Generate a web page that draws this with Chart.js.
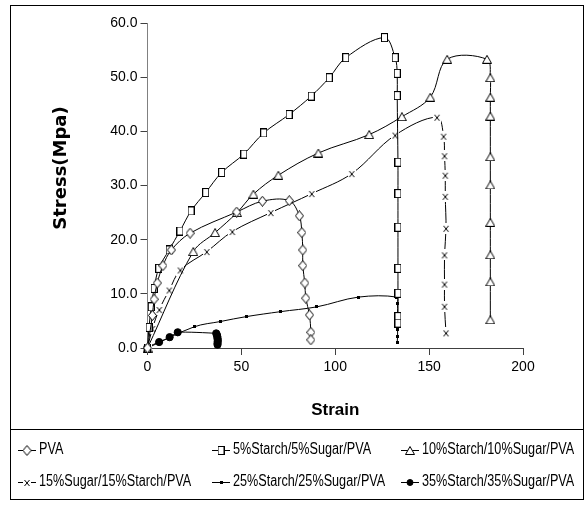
<!DOCTYPE html>
<html>
<head>
<meta charset="utf-8">
<script src="https://cdn.jsdelivr.net/npm/chart.js@4.4.1/dist/chart.umd.min.js"></script>
<style>
  html, body { margin: 0; padding: 0; background: #fff; }
  #wrap { width: 586px; height: 505px; }
</style>
</head>
<body>
<div id="wrap"><canvas id="c" width="586" height="505"></canvas></div>
<script>
// Series names
const seriesNames = [
  'PVA',
  '5%Starch/5%Sugar/PVA',
  '10%Starch/10%Sugar/PVA',
  '15%Sugar/15%Starch/PVA',
  '25%Starch/25%Sugar/PVA',
  '35%Starch/35%Sugar/PVA'
];

// Stress-strain readings (strain in %, stress in MPa)
const pvaStrain = [0, 2.6, 3.5, 5.2, 8.2, 12.7, 22.7, 47.5, 61.2, 75.5, 80.9, 82.2, 82.7, 82.7, 83.8, 84.3, 86.3, 87.0, 87.0];
const pvaStress = [0, 6.0, 9.0, 12.0, 15.2, 18.1, 21.2, 25.1, 27.1, 27.2, 24.4, 21.3, 18.1, 15.2, 12.0, 9.2, 6.1, 2.9, 1.5];

const s5Strain = [0, 0.8, 2.0, 3.5, 6.0, 11.5, 17.3, 23.2, 31.0, 39.5, 51.3, 61.9, 75.4, 87.2, 96.8, 105.6, 126.2, 131.9, 133.0, 133.0, 133.4, 133.4, 133.4, 133.4, 133.4, 133.4, 133.4];
const s5Stress = [0, 3.8, 7.6, 11.0, 14.7, 18.1, 21.6, 25.3, 28.7, 32.4, 35.8, 39.7, 43.1, 46.5, 49.9, 53.6, 57.3, 53.6, 50.7, 46.6, 34.3, 28.5, 22.3, 14.7, 10.1, 5.8, 4.6];

const s10Strain = [0, 24.4, 36.0, 47.7, 56.4, 69.7, 91.0, 118.1, 135.5, 150.6, 159.6, 180.8, 182.6, 182.6, 182.6, 182.6, 182.6, 182.6, 182.6, 182.6, 182.6];
const s10Stress = [0, 17.8, 21.3, 25.0, 28.4, 31.9, 36.0, 39.4, 42.7, 46.3, 53.3, 53.3, 49.9, 46.3, 42.8, 35.3, 30.1, 23.2, 17.2, 12.2, 5.2];

const s15Strain = [0, 2.6, 6.3, 11.6, 17.5, 31.6, 45.2, 65.7, 87.5, 108.8, 131.9, 154.2, 157.7, 158.2, 158.6, 158.6, 159.0, 158.2, 158.2, 158.2, 159.0];
const s15Stress = [0, 3.6, 7.1, 10.7, 14.4, 17.8, 21.5, 25.0, 28.5, 32.2, 39.3, 42.6, 39.1, 35.5, 31.9, 28.0, 22.1, 17.2, 11.8, 7.7, 2.8];

const s25Strain = [0, 24.8, 39.0, 52.7, 70.6, 90.2, 112.4, 132.8, 133.2, 133.2, 133.2, 133.2, 133.2, 133.0];
const s25Stress = [0, 3.9, 4.9, 5.8, 6.7, 7.6, 9.4, 9.4, 8.2, 6.4, 5.2, 3.4, 2.2, 1.0];

const s35Strain = [0, 6.2, 11.8, 16.1, 36.6, 37.0, 37.2, 37.3, 37.4, 37.4, 37.3, 37.3];
const s35Stress = [0.2, 1.1, 2.0, 2.9, 2.7, 2.4, 2.1, 1.8, 1.5, 1.2, 0.9, 0.6];

// Axis ticks and titles
const xTicks = [0, 50, 100, 150, 200];
const yTicks = [0, 10, 20, 30, 40, 50, 60];
const xTitle = 'Strain';
const yTitle = 'Stress(Mpa)';

const sansFont = "'Liberation Sans', Arial, sans-serif";

// Hand-drawn marker glyphs
function marker(w, h, draw) {
  const c = document.createElement('canvas');
  c.width = w; c.height = h;
  const g = c.getContext('2d');
  g.strokeStyle = '#000'; g.fillStyle = '#fff'; g.lineWidth = 1;
  draw(g, w, h);
  return c;
}
const diamondMark = marker(9, 11, g => {
  g.beginPath(); g.moveTo(4.5, 0.5); g.lineTo(8.5, 5.5); g.lineTo(4.5, 10.5); g.lineTo(0.5, 5.5); g.closePath();
  g.fill(); g.stroke();
});
const squareMark = marker(7, 9, g => { g.fillRect(0.5, 0.5, 6, 8); g.strokeRect(0.5, 0.5, 6, 8); });
const triangleMark = marker(10, 9, g => {
  g.beginPath(); g.moveTo(5, 0.5); g.lineTo(9.5, 8.5); g.lineTo(0.5, 8.5); g.closePath();
  g.fill(); g.stroke();
});
const crossMark = marker(8, 11, g => {
  g.fillRect(0, 0, 8, 11);
  g.beginPath(); g.moveTo(1.5, 3); g.lineTo(6.5, 9); g.moveTo(6.5, 3); g.lineTo(1.5, 9); g.stroke();
});
const smallMark = marker(3, 3, g => { g.fillStyle = '#000'; g.fillRect(0, 0, 3, 3); });

function pts(xs, ys) { return xs.map((x, i) => ({ x: x, y: ys[i] })); }

function series(i, xs, ys, style, extra) {
  return Object.assign({
    label: seriesNames[i],
    data: pts(xs, ys),
    showLine: true,
    borderColor: '#000',
    borderWidth: 1,
    tension: 0.35,
    pointStyle: style,
    pointRadius: 4,
    pointBorderWidth: 1,
    pointBorderColor: '#000',
    pointBackgroundColor: '#fff',
    clip: false
  }, extra || {});
}

const datasets = [
  series(0, pvaStrain, pvaStress, diamondMark),
  series(1, s5Strain, s5Stress, squareMark),
  series(2, s10Strain, s10Stress, triangleMark),
  series(3, s15Strain, s15Stress, crossMark),
  series(4, s25Strain, s25Stress, smallMark),
  series(5, s35Strain, s35Stress, 'circle', { pointRadius: 3.6, pointBackgroundColor: '#000', tension: 0.2 })
];

// Frame, axis titles and a three-column legend beneath the plot
const frameAndLegend = {
  id: 'frameAndLegend',
  afterDraw(chart) {
    const ctx = chart.ctx;
    ctx.save();
    ctx.strokeStyle = '#000';
    ctx.lineWidth = 1;
    ctx.strokeRect(10.5, 5.5, 573, 494);
    ctx.beginPath(); ctx.moveTo(10, 429.5); ctx.lineTo(584, 429.5); ctx.stroke();

    ctx.fillStyle = '#000';
    ctx.textBaseline = 'middle';
    ctx.textAlign = 'center';
    ctx.font = 'bold 17px ' + sansFont;
    ctx.fillText(xTitle, (chart.chartArea.left + chart.chartArea.right) / 2, 410);
    ctx.save();
    ctx.translate(61, 168);
    ctx.rotate(-Math.PI / 2);
    ctx.font = "bold 18px 'DejaVu Sans', Verdana, sans-serif";
    ctx.fillText(yTitle, 0, 0);
    ctx.restore();

    const colX = [18, 212, 401];
    const rowY = [450, 482];
    ctx.textAlign = 'left';
    ctx.font = '16px ' + sansFont;
    chart.data.datasets.forEach((ds, i) => {
      const x0 = colX[i % 3], y = rowY[Math.floor(i / 3)];
      ctx.strokeStyle = '#000';
      ctx.beginPath(); ctx.moveTo(x0, y + 0.5); ctx.lineTo(x0 + 18, y + 0.5); ctx.stroke();
      ctx.fillStyle = ds.pointBackgroundColor;
      Chart.helpers.drawPoint(ctx, {
        pointStyle: ds.pointStyle, radius: i === 5 ? 3 : ds.pointRadius, rotation: 0, borderWidth: 1
      }, x0 + 9, y + 0.5);
      ctx.fillStyle = '#000';
      // condensed lettering
      ctx.save();
      ctx.translate(x0 + 21, y);
      ctx.scale(0.79, 1);
      ctx.fillText(ds.label, 0, 0);
      ctx.restore();
    });
    ctx.restore();
  }
};

new Chart(document.getElementById('c'), {
  type: 'scatter',
  data: { datasets: datasets },
  options: {
    responsive: false,
    devicePixelRatio: 1,
    animation: false,
    layout: { padding: { left: 10, right: 63, top: 23, bottom: 97 } },
    plugins: { legend: { display: false }, tooltip: { enabled: false } },
    scales: {
      x: {
        type: 'linear',
        min: xTicks[0],
        max: xTicks[xTicks.length - 1],
        afterFit(scale) { scale.height = 60; },
        afterBuildTicks(scale) { scale.ticks = xTicks.map(v => ({ value: v })); },
        ticks: { color: '#000', font: { family: sansFont, size: 14 }, padding: 4, maxRotation: 0 },
        grid: { drawOnChartArea: false, drawTicks: true, tickLength: 7, color: '#404040' },
        border: { display: true, color: '#404040', width: 1 }
      },
      y: {
        type: 'linear',
        min: yTicks[0],
        max: yTicks[yTicks.length - 1],
        afterFit(scale) { scale.width = 137.5; },
        afterBuildTicks(scale) { scale.ticks = yTicks.map(v => ({ value: v })); },
        ticks: { color: '#000', font: { family: sansFont, size: 14 }, padding: 3, callback: v => v.toFixed(1) },
        grid: { drawOnChartArea: false, drawTicks: true, tickLength: 7, color: '#404040' },
        border: { display: true, color: '#808080', width: 1 }
      }
    }
  },
  plugins: [frameAndLegend]
});
</script>
</body>
</html>
